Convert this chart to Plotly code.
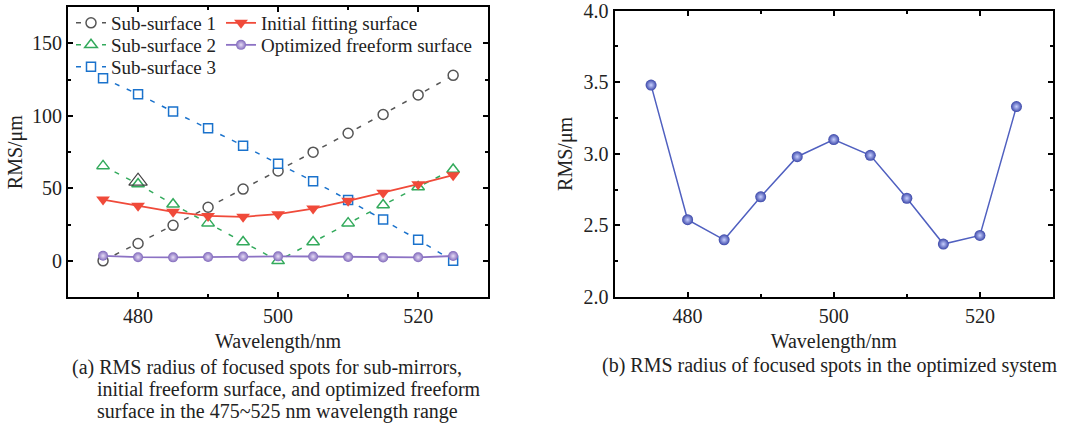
import plotly.graph_objects as go

wavelength = [475, 480, 485, 490, 495, 500, 505, 510, 515, 520, 525]
sub1 = [0, 12, 24.5, 37, 49.5, 62, 75, 88, 101, 114.5, 128]
sub2 = [65.5, 53, 39, 26, 13, 0, 13, 26, 38.5, 51, 63]
sub3 = [126, 115, 103, 91.5, 79.5, 67, 55, 42, 28.5, 14.5, 0]
initial_fit = [42.3, 38, 33.8, 31, 30.4, 32.2, 36.1, 41.4, 47, 52.9, 59.1]
optimized = [3.48, 2.54, 2.40, 2.70, 2.98, 3.10, 2.99, 2.69, 2.37, 2.43, 3.33]
stray_x = [480]
stray_y = [55]

FONT = "Liberation Serif, Times New Roman, serif"
fig = go.Figure()

fig.add_trace(go.Scatter(x=wavelength, y=sub1, name="Sub-surface 1", mode="lines+markers",
                         line=dict(color="#555555", width=1.5, dash="5px,8px"),
                         marker=dict(symbol="circle", size=10, color="white", line=dict(width=1.5, color="#555555")),
                         xaxis="x", yaxis="y", legend="legend"))
fig.add_trace(go.Scatter(x=wavelength, y=sub2, name="Sub-surface 2", mode="lines+markers",
                         line=dict(color="#33aa5c", width=1.5, dash="5px,8px"),
                         marker=dict(symbol="triangle-up", size=11, color="white", line=dict(width=1.5, color="#33aa5c")),
                         xaxis="x", yaxis="y", legend="legend3"))
fig.add_trace(go.Scatter(x=wavelength, y=sub3, name="Sub-surface 3", mode="lines+markers",
                         line=dict(color="#1a72cc", width=1.5, dash="5px,8px"),
                         marker=dict(symbol="square", size=9, color="white", line=dict(width=1.5, color="#1a72cc")),
                         xaxis="x", yaxis="y", legend="legend5"))
fig.add_trace(go.Scatter(x=stray_x, y=stray_y, mode="markers", showlegend=False,
                         marker=dict(symbol="triangle-up-open", size=16, color="#444444", line=dict(width=1.2)),
                         xaxis="x", yaxis="y"))
fig.add_trace(go.Scatter(x=wavelength, y=initial_fit, name="Initial fitting surface", mode="lines+markers",
                         line=dict(color="#f04a3a", width=1.8),
                         marker=dict(symbol="triangle-down", size=12, color="#f04a3a"),
                         xaxis="x", yaxis="y", legend="legend2"))
fig.add_trace(go.Scatter(x=wavelength, y=optimized, name="Optimized freeform surface", mode="lines+markers",
                         line=dict(color="#8c72c4", width=1.8),
                         marker=dict(symbol="circle", size=10, color="#8068bb",
                                     gradient=dict(type="radial", color="#e6dcf5")),
                         xaxis="x", yaxis="y", legend="legend4"))
fig.add_trace(go.Scatter(x=wavelength, y=optimized, mode="lines+markers", showlegend=False,
                         line=dict(color="#5060c0", width=1.5),
                         marker=dict(symbol="circle", size=11, color="#3a46a8",
                                     gradient=dict(type="radial", color="#c8d0ff")),
                         xaxis="x2", yaxis="y2"))

base = dict(showline=True, linecolor="black", linewidth=2, mirror="ticks",
            ticks="inside", ticklen=5, tickwidth=1.5, tickcolor="black",
            showgrid=False, zeroline=False, ticklabeloverflow="allow",
            tickfont=dict(family=FONT, size=20, color="#222"))


def minor(d):
    return dict(dtick=d, ticks="inside", ticklen=3, tickwidth=1.5, tickcolor="black")


def title(t, s):
    return dict(text=t, font=dict(family=FONT, size=20, color="#222"), standoff=s)


def leg(xpx, ypx):
    return dict(x=xpx / 1080, y=1 - ypx / 425, xanchor="left", yanchor="middle",
                bgcolor="rgba(0,0,0,0)", font=dict(family=FONT, size=19, color="#222"),
                itemwidth=30, tracegroupgap=0)


fig.update_layout(
    width=1080, height=425,
    margin=dict(l=0, r=0, t=0, b=0, autoexpand=False),
    paper_bgcolor="white", plot_bgcolor="white",
    font=dict(family=FONT, size=20, color="#222"),
    xaxis=dict(domain=[0.063, 0.452], range=[470, 530], dtick=20, tick0=480, minor=minor(10),
               title=title("Wavelength/nm", 8), anchor="y", **base),
    yaxis=dict(domain=[0.301, 0.983], range=[-25, 175], dtick=50, tick0=0, minor=minor(25),
               title=title("RMS/μm", 4), anchor="x", **base),
    xaxis2=dict(domain=[0.569, 0.975], range=[470, 530], dtick=20, tick0=480, minor=minor(10),
                title=title("Wavelength/nm", 8), anchor="y2", **base),
    yaxis2=dict(domain=[0.301, 0.975], range=[2.0, 4.0], dtick=0.5, tick0=2.0, tickformat=".1f",
                minor=minor(0.25), title=title("RMS/μm", 6), anchor="x2", **base),
    legend=leg(71, 23),
    legend3=leg(71, 45),
    legend5=leg(71, 67),
    legend2=leg(221, 23),
    legend4=leg(221, 45),
    showlegend=True,
)

cap = dict(xref="paper", yref="paper", showarrow=False, xanchor="left", yanchor="middle",
           font=dict(family=FONT, size=20, color="#222"))
fig.add_annotation(x=70/1080, y=1-367/425, text="(a) RMS radius of focused spots for sub-mirrors,", **cap)
fig.add_annotation(x=95/1080, y=1-389/425, text="initial freeform surface, and optimized freeform", **cap)
fig.add_annotation(x=95/1080, y=1-411/425, text="surface in the 475~525 nm wavelength range", **cap)
fig.add_annotation(x=600/1080, y=1-365/425, text="(b) RMS radius of focused spots in the optimized system", **cap)

fig.write_html("out.html", config={"displayModeBar": False},
               post_script="document.body.style.margin='0';document.body.style.padding='0';")
